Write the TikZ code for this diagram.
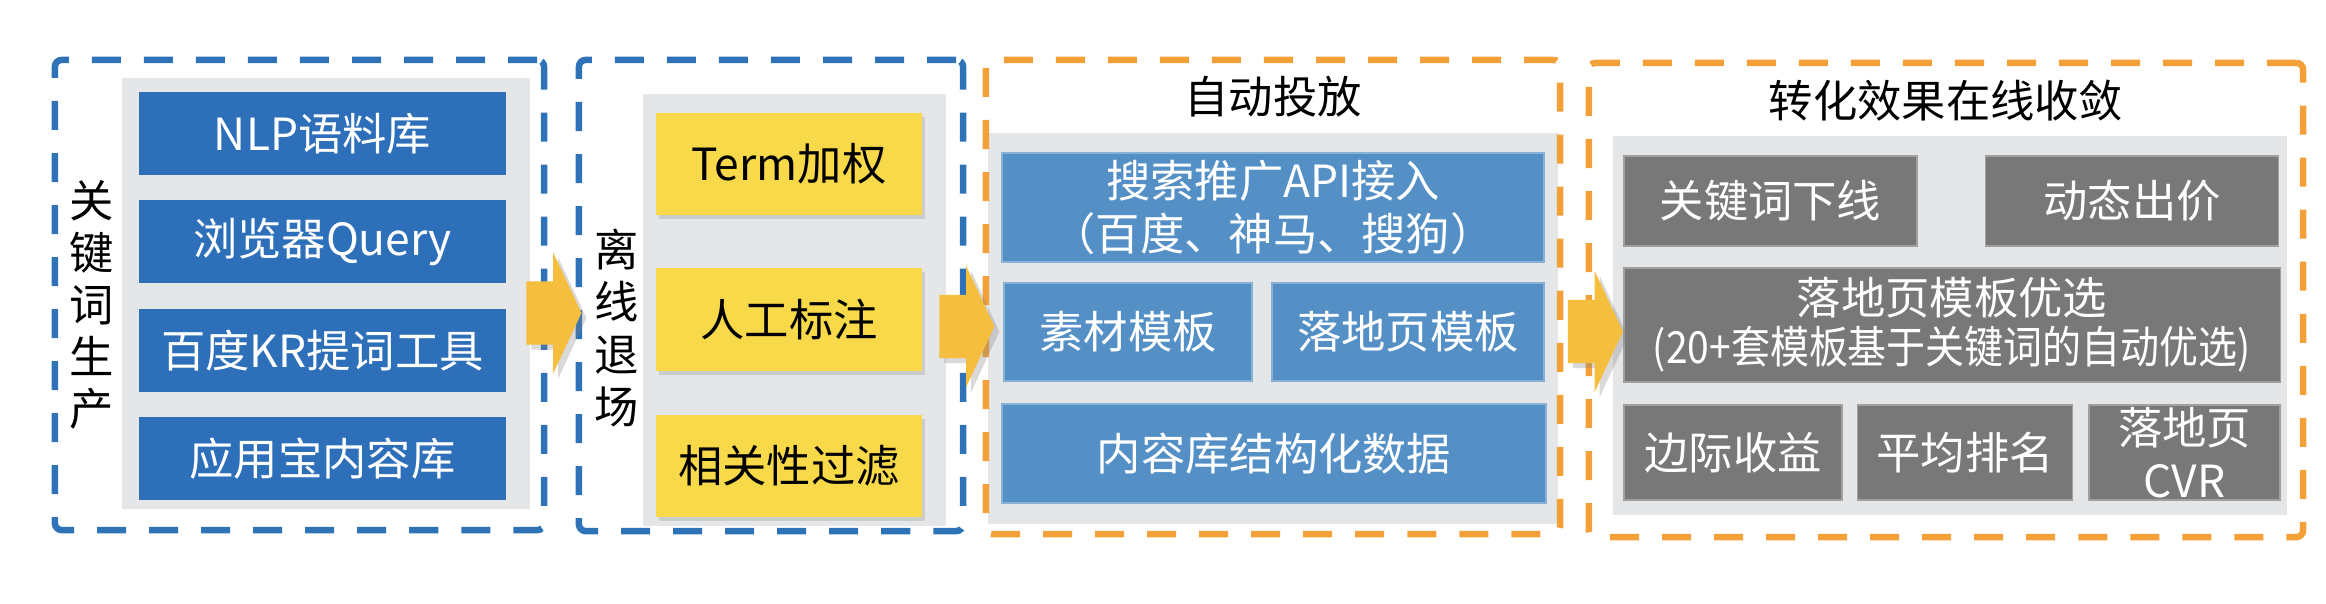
\documentclass[tikz,border=0pt]{standalone}
\usepackage{fontspec}
\usepackage{graphicx}
\setmainfont{Noto Sans CJK SC}
\usetikzlibrary{shapes.arrows, positioning, shadows}
\definecolor{frameblue}{HTML}{2E73B8}
\definecolor{frameorange}{HTML}{F4A038}
\definecolor{srcblue}{HTML}{2E6FB9}
\definecolor{launchblue}{HTML}{5490C6}
\definecolor{filteryellow}{HTML}{F8D94A}
\definecolor{panelgray}{HTML}{E5E6E8}
\definecolor{tunegray}{HTML}{787878}
\definecolor{arrowgold}{HTML}{F5BE3F}
\newcommand{\cellfont}{\fontsize{12.6pt}{15.2pt}\selectfont}
\newcommand{\stackfont}{\fontsize{12.6pt}{14.8pt}\selectfont}
\tikzstyle{frame} = [rectangle, line width=1.85pt, dash pattern=on 0.29cm off 0.23cm, rounded corners=2pt, inner sep=0pt]
\tikzstyle{blueframe} = [frame, draw=frameblue]
\tikzstyle{orangeframe} = [frame, draw=frameorange]
\tikzstyle{panel} = [rectangle, fill=panelgray, inner sep=0pt]
\tikzstyle{cell} = [rectangle, inner sep=0pt, align=center, font=\cellfont]
\tikzstyle{srcbox} = [cell, fill=srcblue, text=white, minimum width=3.67cm, minimum height=0.83cm]
\tikzstyle{filterbox} = [cell, fill=filteryellow, text=black, minimum width=2.66cm, minimum height=1.02cm, drop shadow={shadow xshift=0.03cm, shadow yshift=-0.04cm, opacity=0.25}]
\tikzstyle{launchbox} = [cell, fill=launchblue, draw=launchblue!70!white, line width=0.4pt, text=white]
\tikzstyle{tunebox} = [cell, fill=tunegray, draw=tunegray!70!white, line width=0.4pt, text=white]
\tikzstyle{stacklabel} = [align=center, inner sep=0pt, font=\stackfont]
\tikzstyle{title} = [inner sep=0pt, font=\cellfont]
\tikzstyle{flow} = [single arrow, fill=arrowgold, inner xsep=0pt, inner ysep=0.31cm, minimum height=0.55cm, single arrow head extend=0.29cm, single arrow tip angle=130, drop shadow={shadow xshift=0.05cm, shadow yshift=-0.05cm, opacity=0.3}]

\begin{document}
\begin{tikzpicture}[x=0.01cm, y=0.01cm]
    \useasboundingbox (0,0) rectangle (2326,-604);

    \node[panel, minimum width=4.08cm, minimum height=4.31cm] (prodpanel) at (326,-293.5) {};
    \node[blueframe, minimum width=4.89cm, minimum height=4.70cm] (prodframe) at (299.5,-295) {};
    \node[stacklabel] (prodlabel) at (92,-305) {关\\键\\词\\生\\产};
    \node[srcbox] (nlp) at (322.5,-133.5) {NLP语料库};
    \node[srcbox, below=0.24cm of nlp] (browser) {浏览器Query};
    \node[srcbox, below=0.24cm of browser] (kr) {百度KR提词工具};
    \node[srcbox, below=0.24cm of kr] (appstore) {应用宝内容库};

    \node[panel, minimum width=3.03cm, minimum height=4.32cm] (offpanel) at (794.5,-310) {};
    \node[blueframe, minimum width=3.84cm, minimum height=4.71cm] (offframe) at (771,-295.5) {};
    \node[stacklabel] (offlabel) at (617,-328) {离\\线\\退\\场};
    \node[filterbox] (term) at (789,-164) {Term加权};
    \node[filterbox, below=0.52cm of term] (manual) {人工标注};
    \node[filterbox, below=0.43cm of manual] (relevance) {相关性过滤};

    \node[panel, minimum width=5.70cm, minimum height=3.91cm] (launchpanel) at (1273,-328.5) {};
    \node[orangeframe, minimum width=5.74cm, minimum height=4.74cm] (launchframe) at (1273,-297) {};
    \node[title] (launchtitle) at (1273,-97) {自动投放};
    \node[launchbox, minimum width=5.42cm, minimum height=1.09cm] (api) at (1273,-207.5) {搜索推广API接入\\（百度、神马、搜狗）};
    \node[launchbox, minimum width=2.48cm, minimum height=0.98cm] (material) at (1128,-332) {素材模板};
    \node[launchbox, minimum width=2.72cm, minimum height=0.98cm] (landing) at (1408,-332) {落地页模板};
    \node[launchbox, minimum width=5.44cm, minimum height=0.99cm] (content) at (1274,-453.5) {内容库结构化数据};

    \node[panel, minimum width=6.74cm, minimum height=3.79cm] (tunepanel) at (1950,-325.5) {};
    \node[orangeframe, minimum width=7.14cm, minimum height=4.74cm] (tuneframe) at (1946,-300) {};
    \node[title] (tunetitle) at (1946,-101) {转化效果在线收敛};
    \node[tunebox, minimum width=2.93cm, minimum height=0.90cm] (kwoff) at (1770.5,-201) {关键词下线};
    \node[tunebox, minimum width=2.93cm, minimum height=0.90cm, right=0.67cm of kwoff] (bidding) {动态出价};
    \node[tunebox, minimum width=6.56cm, minimum height=1.14cm, font=\fontsize{12.6pt}{14pt}\selectfont] (lpselect) at (1952,-325) {落地页模板优选\\\scalebox{0.88}[1]{(20+套模板基于关键词的自动优选)}};
    \node[tunebox, minimum width=2.18cm, minimum height=0.95cm] (margin) at (1733,-452.5) {边际收益};
    \node[tunebox, minimum width=2.15cm, minimum height=0.95cm, right=0.14cm of margin] (rank) {平均排名};
    \node[tunebox, minimum width=1.91cm, minimum height=0.95cm, right=0.15cm of rank] (cvr) {落地页\\CVR};

    \node[flow] (arr1) at (546.5,-313) {};
    \node[flow] (arr2) at (959.5,-326.5) {};
    \node[flow] (arr3) at (1588,-331.5) {};
\end{tikzpicture}
\end{document}
